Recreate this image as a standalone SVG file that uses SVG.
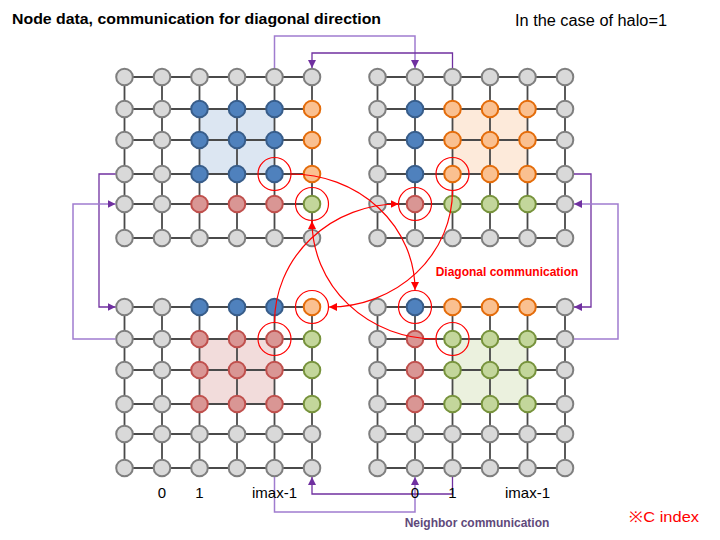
<svg xmlns="http://www.w3.org/2000/svg" xmlns:xlink="http://www.w3.org/1999/xlink" width="720" height="540" viewBox="0 0 720 540">
<style>
.ln{stroke:#4a4a4a;stroke-width:1.8;fill:none}
.n{stroke-width:2}
.g{fill:#D9D9D9;stroke:#7F7F7F}
.b{fill:#4F81BD;stroke:#385D8A}
.o{fill:#FAC090;stroke:#E46C0A}
.r{fill:#D99694;stroke:#C0504D}
.v{fill:#C3D69B;stroke:#77933C}
.rc{fill:none;stroke:#FF0000;stroke-width:1.2}
.ra{fill:none;stroke:#FF0000;stroke-width:1.2;marker-end:url(#ar)}
.pd{fill:none;stroke:#7030A0;stroke-width:1.3;marker-end:url(#apd)}
.pl{fill:none;stroke:#A07CCF;stroke-width:1.5;marker-end:url(#apl)}
.t{font-family:"Liberation Sans",Arial,sans-serif;fill:#000}
</style>
<defs>
<marker id="ar" viewBox="0 0 10 10" refX="10" refY="5" markerWidth="8" markerHeight="8" markerUnits="userSpaceOnUse" orient="auto"><path d="M0,0 L10,5 L0,10 z" fill="#FF0000"/></marker>
<marker id="apd" viewBox="0 0 10 10" refX="10" refY="5" markerWidth="8" markerHeight="8" markerUnits="userSpaceOnUse" orient="auto"><path d="M0,0 L10,5 L0,10 z" fill="#7030A0"/></marker>
<marker id="apl" viewBox="0 0 10 10" refX="10" refY="5" markerWidth="8" markerHeight="8" markerUnits="userSpaceOnUse" orient="auto"><path d="M0,0 L10,5 L0,10 z" fill="#7030A0"/></marker>
<g id="grid">
<path class="ln" d="M0,0H187.5M0,32H187.5M0,63H187.5M0,97H187.5M0,127H187.5M0,161H187.5M0,0V161M37.5,0V161M75,0V161M112.5,0V161M150,0V161M187.5,0V161"/>
</g>
</defs>
<rect width="720" height="540" fill="#FFFFFF"/>
<text class="t" x="12" y="24" font-size="15" font-weight="bold" textLength="369" lengthAdjust="spacingAndGlyphs">Node data, communication for diagonal direction</text>
<text class="t" x="515" y="25.5" font-size="16" textLength="152" lengthAdjust="spacingAndGlyphs">In the case of halo=1</text>

<!-- Top-left -->
<g id="q-tl" transform="translate(124.5,77)">
<rect x="75" y="32" width="75" height="65" fill="#DCE6F2"/>
<use xlink:href="#grid"/>
<g id="tl-0-0"><circle class="n g" r="8.3" cx="0" cy="0"/></g>
<g id="tl-0-1"><circle class="n g" r="8.3" cx="37.5" cy="0"/></g>
<g id="tl-0-2"><circle class="n g" r="8.3" cx="75" cy="0"/></g>
<g id="tl-0-3"><circle class="n g" r="8.3" cx="112.5" cy="0"/></g>
<g id="tl-0-4"><circle class="n g" r="8.3" cx="150" cy="0"/></g>
<g id="tl-0-5"><circle class="n g" r="8.3" cx="187.5" cy="0"/></g>
<g id="tl-1-0"><circle class="n g" r="8.3" cx="0" cy="32"/></g>
<g id="tl-1-1"><circle class="n g" r="8.3" cx="37.5" cy="32"/></g>
<g id="tl-1-2"><circle class="n b" r="8.3" cx="75" cy="32"/></g>
<g id="tl-1-3"><circle class="n b" r="8.3" cx="112.5" cy="32"/></g>
<g id="tl-1-4"><circle class="n b" r="8.3" cx="150" cy="32"/></g>
<g id="tl-1-5"><circle class="n o" r="8.3" cx="187.5" cy="32"/></g>
<g id="tl-2-0"><circle class="n g" r="8.3" cx="0" cy="63"/></g>
<g id="tl-2-1"><circle class="n g" r="8.3" cx="37.5" cy="63"/></g>
<g id="tl-2-2"><circle class="n b" r="8.3" cx="75" cy="63"/></g>
<g id="tl-2-3"><circle class="n b" r="8.3" cx="112.5" cy="63"/></g>
<g id="tl-2-4"><circle class="n b" r="8.3" cx="150" cy="63"/></g>
<g id="tl-2-5"><circle class="n o" r="8.3" cx="187.5" cy="63"/></g>
<g id="tl-3-0"><circle class="n g" r="8.3" cx="0" cy="97"/></g>
<g id="tl-3-1"><circle class="n g" r="8.3" cx="37.5" cy="97"/></g>
<g id="tl-3-2"><circle class="n b" r="8.3" cx="75" cy="97"/></g>
<g id="tl-3-3"><circle class="n b" r="8.3" cx="112.5" cy="97"/></g>
<g id="tl-3-4"><circle class="n b" r="8.3" cx="150" cy="97"/></g>
<g id="tl-3-5"><circle class="n o" r="8.3" cx="187.5" cy="97"/></g>
<g id="tl-4-0"><circle class="n g" r="8.3" cx="0" cy="127"/></g>
<g id="tl-4-1"><circle class="n g" r="8.3" cx="37.5" cy="127"/></g>
<g id="tl-4-2"><circle class="n r" r="8.3" cx="75" cy="127"/></g>
<g id="tl-4-3"><circle class="n r" r="8.3" cx="112.5" cy="127"/></g>
<g id="tl-4-4"><circle class="n r" r="8.3" cx="150" cy="127"/></g>
<g id="tl-4-5"><circle class="n v" r="8.3" cx="187.5" cy="127"/></g>
<g id="tl-5-0"><circle class="n g" r="8.3" cx="0" cy="161"/></g>
<g id="tl-5-1"><circle class="n g" r="8.3" cx="37.5" cy="161"/></g>
<g id="tl-5-2"><circle class="n g" r="8.3" cx="75" cy="161"/></g>
<g id="tl-5-3"><circle class="n g" r="8.3" cx="112.5" cy="161"/></g>
<g id="tl-5-4"><circle class="n g" r="8.3" cx="150" cy="161"/></g>
<g id="tl-5-5"><circle class="n g" r="8.3" cx="187.5" cy="161"/></g>
</g>

<!-- Top-right -->
<g id="q-tr" transform="translate(377.5,77)">
<rect x="75" y="32" width="75" height="65" fill="#FDEADA"/>
<use xlink:href="#grid"/>
<g id="tr-0-0"><circle class="n g" r="8.3" cx="0" cy="0"/></g>
<g id="tr-0-1"><circle class="n g" r="8.3" cx="37.5" cy="0"/></g>
<g id="tr-0-2"><circle class="n g" r="8.3" cx="75" cy="0"/></g>
<g id="tr-0-3"><circle class="n g" r="8.3" cx="112.5" cy="0"/></g>
<g id="tr-0-4"><circle class="n g" r="8.3" cx="150" cy="0"/></g>
<g id="tr-0-5"><circle class="n g" r="8.3" cx="187.5" cy="0"/></g>
<g id="tr-1-0"><circle class="n g" r="8.3" cx="0" cy="32"/></g>
<g id="tr-1-1"><circle class="n b" r="8.3" cx="37.5" cy="32"/></g>
<g id="tr-1-2"><circle class="n o" r="8.3" cx="75" cy="32"/></g>
<g id="tr-1-3"><circle class="n o" r="8.3" cx="112.5" cy="32"/></g>
<g id="tr-1-4"><circle class="n o" r="8.3" cx="150" cy="32"/></g>
<g id="tr-1-5"><circle class="n g" r="8.3" cx="187.5" cy="32"/></g>
<g id="tr-2-0"><circle class="n g" r="8.3" cx="0" cy="63"/></g>
<g id="tr-2-1"><circle class="n b" r="8.3" cx="37.5" cy="63"/></g>
<g id="tr-2-2"><circle class="n o" r="8.3" cx="75" cy="63"/></g>
<g id="tr-2-3"><circle class="n o" r="8.3" cx="112.5" cy="63"/></g>
<g id="tr-2-4"><circle class="n o" r="8.3" cx="150" cy="63"/></g>
<g id="tr-2-5"><circle class="n g" r="8.3" cx="187.5" cy="63"/></g>
<g id="tr-3-0"><circle class="n g" r="8.3" cx="0" cy="97"/></g>
<g id="tr-3-1"><circle class="n b" r="8.3" cx="37.5" cy="97"/></g>
<g id="tr-3-2"><circle class="n o" r="8.3" cx="75" cy="97"/></g>
<g id="tr-3-3"><circle class="n o" r="8.3" cx="112.5" cy="97"/></g>
<g id="tr-3-4"><circle class="n o" r="8.3" cx="150" cy="97"/></g>
<g id="tr-3-5"><circle class="n g" r="8.3" cx="187.5" cy="97"/></g>
<g id="tr-4-0"><circle class="n g" r="8.3" cx="0" cy="127"/></g>
<g id="tr-4-1"><circle class="n r" r="8.3" cx="37.5" cy="127"/></g>
<g id="tr-4-2"><circle class="n v" r="8.3" cx="75" cy="127"/></g>
<g id="tr-4-3"><circle class="n v" r="8.3" cx="112.5" cy="127"/></g>
<g id="tr-4-4"><circle class="n v" r="8.3" cx="150" cy="127"/></g>
<g id="tr-4-5"><circle class="n g" r="8.3" cx="187.5" cy="127"/></g>
<g id="tr-5-0"><circle class="n g" r="8.3" cx="0" cy="161"/></g>
<g id="tr-5-1"><circle class="n g" r="8.3" cx="37.5" cy="161"/></g>
<g id="tr-5-2"><circle class="n g" r="8.3" cx="75" cy="161"/></g>
<g id="tr-5-3"><circle class="n g" r="8.3" cx="112.5" cy="161"/></g>
<g id="tr-5-4"><circle class="n g" r="8.3" cx="150" cy="161"/></g>
<g id="tr-5-5"><circle class="n g" r="8.3" cx="187.5" cy="161"/></g>
</g>

<!-- Bottom-left -->
<g id="q-bl" transform="translate(124.5,307)">
<rect x="75" y="32" width="75" height="65" fill="#F2DCDB"/>
<use xlink:href="#grid"/>
<g id="bl-0-0"><circle class="n g" r="8.3" cx="0" cy="0"/></g>
<g id="bl-0-1"><circle class="n g" r="8.3" cx="37.5" cy="0"/></g>
<g id="bl-0-2"><circle class="n b" r="8.3" cx="75" cy="0"/></g>
<g id="bl-0-3"><circle class="n b" r="8.3" cx="112.5" cy="0"/></g>
<g id="bl-0-4"><circle class="n b" r="8.3" cx="150" cy="0"/></g>
<g id="bl-0-5"><circle class="n o" r="8.3" cx="187.5" cy="0"/></g>
<g id="bl-1-0"><circle class="n g" r="8.3" cx="0" cy="32"/></g>
<g id="bl-1-1"><circle class="n g" r="8.3" cx="37.5" cy="32"/></g>
<g id="bl-1-2"><circle class="n r" r="8.3" cx="75" cy="32"/></g>
<g id="bl-1-3"><circle class="n r" r="8.3" cx="112.5" cy="32"/></g>
<g id="bl-1-4"><circle class="n r" r="8.3" cx="150" cy="32"/></g>
<g id="bl-1-5"><circle class="n v" r="8.3" cx="187.5" cy="32"/></g>
<g id="bl-2-0"><circle class="n g" r="8.3" cx="0" cy="63"/></g>
<g id="bl-2-1"><circle class="n g" r="8.3" cx="37.5" cy="63"/></g>
<g id="bl-2-2"><circle class="n r" r="8.3" cx="75" cy="63"/></g>
<g id="bl-2-3"><circle class="n r" r="8.3" cx="112.5" cy="63"/></g>
<g id="bl-2-4"><circle class="n r" r="8.3" cx="150" cy="63"/></g>
<g id="bl-2-5"><circle class="n v" r="8.3" cx="187.5" cy="63"/></g>
<g id="bl-3-0"><circle class="n g" r="8.3" cx="0" cy="97"/></g>
<g id="bl-3-1"><circle class="n g" r="8.3" cx="37.5" cy="97"/></g>
<g id="bl-3-2"><circle class="n r" r="8.3" cx="75" cy="97"/></g>
<g id="bl-3-3"><circle class="n r" r="8.3" cx="112.5" cy="97"/></g>
<g id="bl-3-4"><circle class="n r" r="8.3" cx="150" cy="97"/></g>
<g id="bl-3-5"><circle class="n v" r="8.3" cx="187.5" cy="97"/></g>
<g id="bl-4-0"><circle class="n g" r="8.3" cx="0" cy="127"/></g>
<g id="bl-4-1"><circle class="n g" r="8.3" cx="37.5" cy="127"/></g>
<g id="bl-4-2"><circle class="n g" r="8.3" cx="75" cy="127"/></g>
<g id="bl-4-3"><circle class="n g" r="8.3" cx="112.5" cy="127"/></g>
<g id="bl-4-4"><circle class="n g" r="8.3" cx="150" cy="127"/></g>
<g id="bl-4-5"><circle class="n g" r="8.3" cx="187.5" cy="127"/></g>
<g id="bl-5-0"><circle class="n g" r="8.3" cx="0" cy="161"/></g>
<g id="bl-5-1"><circle class="n g" r="8.3" cx="37.5" cy="161"/></g>
<g id="bl-5-2"><circle class="n g" r="8.3" cx="75" cy="161"/></g>
<g id="bl-5-3"><circle class="n g" r="8.3" cx="112.5" cy="161"/></g>
<g id="bl-5-4"><circle class="n g" r="8.3" cx="150" cy="161"/></g>
<g id="bl-5-5"><circle class="n g" r="8.3" cx="187.5" cy="161"/></g>
</g>

<!-- Bottom-right -->
<g id="q-br" transform="translate(377.5,307)">
<rect x="75" y="32" width="75" height="65" fill="#EBF1DE"/>
<use xlink:href="#grid"/>
<g id="br-0-0"><circle class="n g" r="8.3" cx="0" cy="0"/></g>
<g id="br-0-1"><circle class="n b" r="8.3" cx="37.5" cy="0"/></g>
<g id="br-0-2"><circle class="n o" r="8.3" cx="75" cy="0"/></g>
<g id="br-0-3"><circle class="n o" r="8.3" cx="112.5" cy="0"/></g>
<g id="br-0-4"><circle class="n o" r="8.3" cx="150" cy="0"/></g>
<g id="br-0-5"><circle class="n g" r="8.3" cx="187.5" cy="0"/></g>
<g id="br-1-0"><circle class="n g" r="8.3" cx="0" cy="32"/></g>
<g id="br-1-1"><circle class="n r" r="8.3" cx="37.5" cy="32"/></g>
<g id="br-1-2"><circle class="n v" r="8.3" cx="75" cy="32"/></g>
<g id="br-1-3"><circle class="n v" r="8.3" cx="112.5" cy="32"/></g>
<g id="br-1-4"><circle class="n v" r="8.3" cx="150" cy="32"/></g>
<g id="br-1-5"><circle class="n g" r="8.3" cx="187.5" cy="32"/></g>
<g id="br-2-0"><circle class="n g" r="8.3" cx="0" cy="63"/></g>
<g id="br-2-1"><circle class="n r" r="8.3" cx="37.5" cy="63"/></g>
<g id="br-2-2"><circle class="n v" r="8.3" cx="75" cy="63"/></g>
<g id="br-2-3"><circle class="n v" r="8.3" cx="112.5" cy="63"/></g>
<g id="br-2-4"><circle class="n v" r="8.3" cx="150" cy="63"/></g>
<g id="br-2-5"><circle class="n g" r="8.3" cx="187.5" cy="63"/></g>
<g id="br-3-0"><circle class="n g" r="8.3" cx="0" cy="97"/></g>
<g id="br-3-1"><circle class="n r" r="8.3" cx="37.5" cy="97"/></g>
<g id="br-3-2"><circle class="n v" r="8.3" cx="75" cy="97"/></g>
<g id="br-3-3"><circle class="n v" r="8.3" cx="112.5" cy="97"/></g>
<g id="br-3-4"><circle class="n v" r="8.3" cx="150" cy="97"/></g>
<g id="br-3-5"><circle class="n g" r="8.3" cx="187.5" cy="97"/></g>
<g id="br-4-0"><circle class="n g" r="8.3" cx="0" cy="127"/></g>
<g id="br-4-1"><circle class="n g" r="8.3" cx="37.5" cy="127"/></g>
<g id="br-4-2"><circle class="n g" r="8.3" cx="75" cy="127"/></g>
<g id="br-4-3"><circle class="n g" r="8.3" cx="112.5" cy="127"/></g>
<g id="br-4-4"><circle class="n g" r="8.3" cx="150" cy="127"/></g>
<g id="br-4-5"><circle class="n g" r="8.3" cx="187.5" cy="127"/></g>
<g id="br-5-0"><circle class="n g" r="8.3" cx="0" cy="161"/></g>
<g id="br-5-1"><circle class="n g" r="8.3" cx="37.5" cy="161"/></g>
<g id="br-5-2"><circle class="n g" r="8.3" cx="75" cy="161"/></g>
<g id="br-5-3"><circle class="n g" r="8.3" cx="112.5" cy="161"/></g>
<g id="br-5-4"><circle class="n g" r="8.3" cx="150" cy="161"/></g>
<g id="br-5-5"><circle class="n g" r="8.3" cx="187.5" cy="161"/></g>
</g>

<!-- Highlight rings -->
<g id="rings">
<circle class="rc" cx="274.5" cy="174" r="16.5"/>
<circle class="rc" cx="312" cy="204" r="16.5"/>
<circle class="rc" cx="452.5" cy="174" r="16.5"/>
<circle class="rc" cx="415" cy="204" r="16.5"/>
<circle class="rc" cx="312" cy="307" r="16.5"/>
<circle class="rc" cx="274.5" cy="339" r="16.5"/>
<circle class="rc" cx="415" cy="307" r="16.5"/>
<circle class="rc" cx="452.5" cy="339" r="16.5"/>
</g>

<!-- Connectors -->
<g id="connectors">
<path class="ra" d="M291,174 A124,116 0 0 1 415,290"/>
<path class="ra" d="M452.5,190.5 A123.5,116.5 0 0 1 329,307"/>
<path class="ra" d="M274.5,322.5 A124,118.5 0 0 1 398.5,204"/>
<path class="ra" d="M436,339 A124,118 0 0 1 312,221"/>
<path class="pl" d="M274.5,68 V36 H415 V68"/>
<path class="pd" d="M452.5,68 V53 H312 V68"/>
<path class="pd" d="M115.5,174 H99 V307 H115.5"/>
<path class="pl" d="M115.5,339 H73 V204 H115.5"/>
<path class="pd" d="M574,174 H591 V307 H574"/>
<path class="pl" d="M574,339 H618 V204 H574"/>
<path class="pl" d="M274.5,477 V512 H415 V477"/>
<path class="pd" d="M452.5,477 V494 H312 V477"/>
</g>

<!-- Labels -->
<g id="labels" class="t" font-size="15" text-anchor="middle">
<text class="t" x="162" y="498">0</text>
<text class="t" x="199.5" y="498">1</text>
<text class="t" x="274.5" y="498">imax-1</text>
<text class="t" x="415" y="498">0</text>
<text class="t" x="452.5" y="498">1</text>
<text class="t" x="527.5" y="498">imax-1</text>
</g>
<text class="t" x="507" y="276" font-size="12" font-weight="bold" text-anchor="middle" style="fill:#FF0000">Diagonal communication</text>
<text class="t" x="477" y="527" font-size="12" font-weight="bold" text-anchor="middle" style="fill:#60497A">Neighbor communication</text>
<text class="t" x="629" y="522" font-size="15" textLength="70" lengthAdjust="spacingAndGlyphs" style="fill:#FF0000">※C index</text>
</svg>
